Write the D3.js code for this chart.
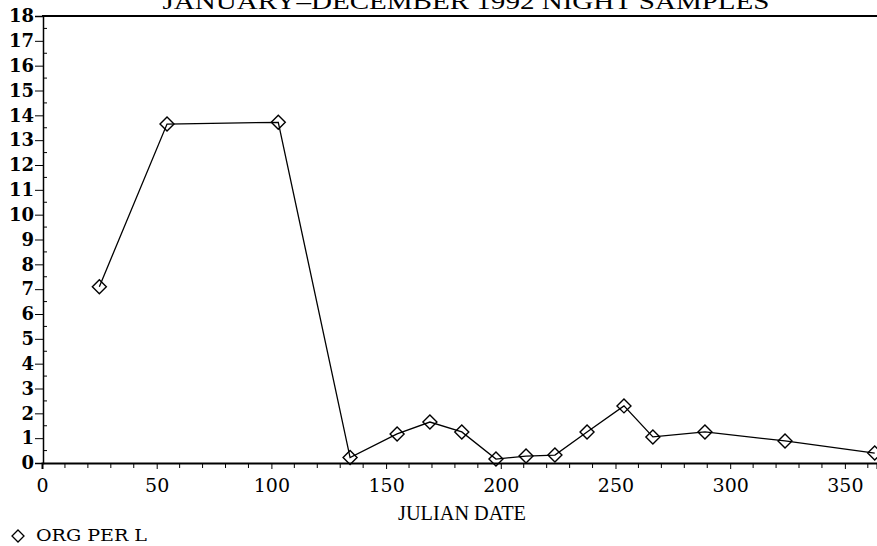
<!DOCTYPE html>
<html><head><meta charset="utf-8">
<script src="https://cdn.jsdelivr.net/npm/d3@7"></script>
<style>body{margin:0;background:#fff}svg{display:block}</style>
</head><body>
<script>
const days = [25, 54.5, 103, 134.3, 154.8, 169.1, 183, 197.9, 211, 223.6, 237.6, 253.7, 266.3, 289, 323.9, 363];
const orgPerL = [7.1, 13.65, 13.72, 0.22, 1.17, 1.65, 1.25, 0.16, 0.28, 0.32, 1.25, 2.3, 1.05, 1.25, 0.89, 0.4];
const xTicks = [0, 50, 100, 150, 200, 250, 300, 350];
const yTicks = d3.range(0, 19);
const title = "JANUARY–DECEMBER 1992 NIGHT SAMPLES";
const xLabel = "JULIAN DATE";
const legendLabel = "ORG PER L";

const W = 877, H = 546;
const svg = d3.select("body").append("svg").attr("width", W).attr("height", H);
const x = d3.scaleLinear().domain([0, 364]).range([42, 877]);
const y = d3.scaleLinear().domain([0, 18]).range([463, 16]);
const serif = "'DejaVu Serif', serif";

// title
svg.append("text").attr("x", 466).attr("y", 9).attr("text-anchor", "middle")
  .attr("font-family", "'Liberation Serif', serif").attr("font-size", 24)
  .attr("textLength", 607).attr("lengthAdjust", "spacingAndGlyphs").text(title);

// frame top
svg.append("line").attr("x1", 42).attr("x2", W).attr("y1", 16).attr("y2", 16).attr("stroke", "#000").attr("stroke-width", 2);

// y axis
const ya = d3.axisLeft(y).tickValues(yTicks).tickSize(8).tickPadding(1).tickFormat(d3.format("d"));
const yg = svg.append("g").attr("transform", "translate(43,0)").call(ya);
yg.select(".domain").attr("stroke-width", 1.5);
yg.selectAll("text").attr("font-family", serif).attr("font-size", 18).attr("font-weight", "bold").attr("fill", "#000");
// y minor ticks
svg.append("g").selectAll("line").data(d3.range(0.5, 18, 1)).join("line")
  .attr("x1", 43).attr("x2", 47).attr("y1", d => y(d)).attr("y2", d => y(d))
  .attr("stroke", "#000").attr("stroke-width", 1);

// x axis
const xa = d3.axisBottom(x).tickValues(xTicks).tickSize(6).tickPadding(10).tickFormat(d3.format("d"));
const xg = svg.append("g").attr("transform", "translate(0,463)").call(xa);
xg.select(".domain").attr("stroke-width", 2);
xg.selectAll("text").attr("font-family", serif).attr("font-size", 19).attr("fill", "#000");
svg.append("g").selectAll("line").data(d3.range(10, 365, 10).filter(d => d % 50 !== 0)).join("line")
  .attr("x1", d => x(d)).attr("x2", d => x(d)).attr("y1", 463).attr("y2", 468)
  .attr("stroke", "#000").attr("stroke-width", 1);

svg.append("text").attr("x", 462).attr("y", 520).attr("text-anchor", "middle")
  .attr("font-family", "'Liberation Serif', serif").attr("font-size", 21)
  .attr("textLength", 128).attr("lengthAdjust", "spacingAndGlyphs").text(xLabel);

// line
const data = days.map((d, i) => [d, orgPerL[i]]);
svg.append("path").datum(data)
  .attr("d", d3.line().x(d => x(d[0])).y(d => y(d[1])))
  .attr("fill", "none").attr("stroke", "#000").attr("stroke-width", 1.3);
const diamond = "M0,-7L7,0L0,7L-7,0Z";
svg.append("g").selectAll("path").data(data).join("path")
  .attr("transform", d => `translate(${x(d[0])},${y(d[1])})`)
  .attr("d", diamond).attr("fill", "none").attr("stroke", "#000").attr("stroke-width", 1.4);

// legend
svg.append("path").attr("transform", "translate(18,536)").attr("d", "M0,-6L6,0L0,6L-6,0Z")
  .attr("fill", "none").attr("stroke", "#000").attr("stroke-width", 1.3);
svg.append("text").attr("x", 36).attr("y", 541).attr("font-family", serif).attr("font-size", 16)
  .attr("textLength", 111).attr("lengthAdjust", "spacingAndGlyphs").text(legendLabel);
</script>
</body></html>
